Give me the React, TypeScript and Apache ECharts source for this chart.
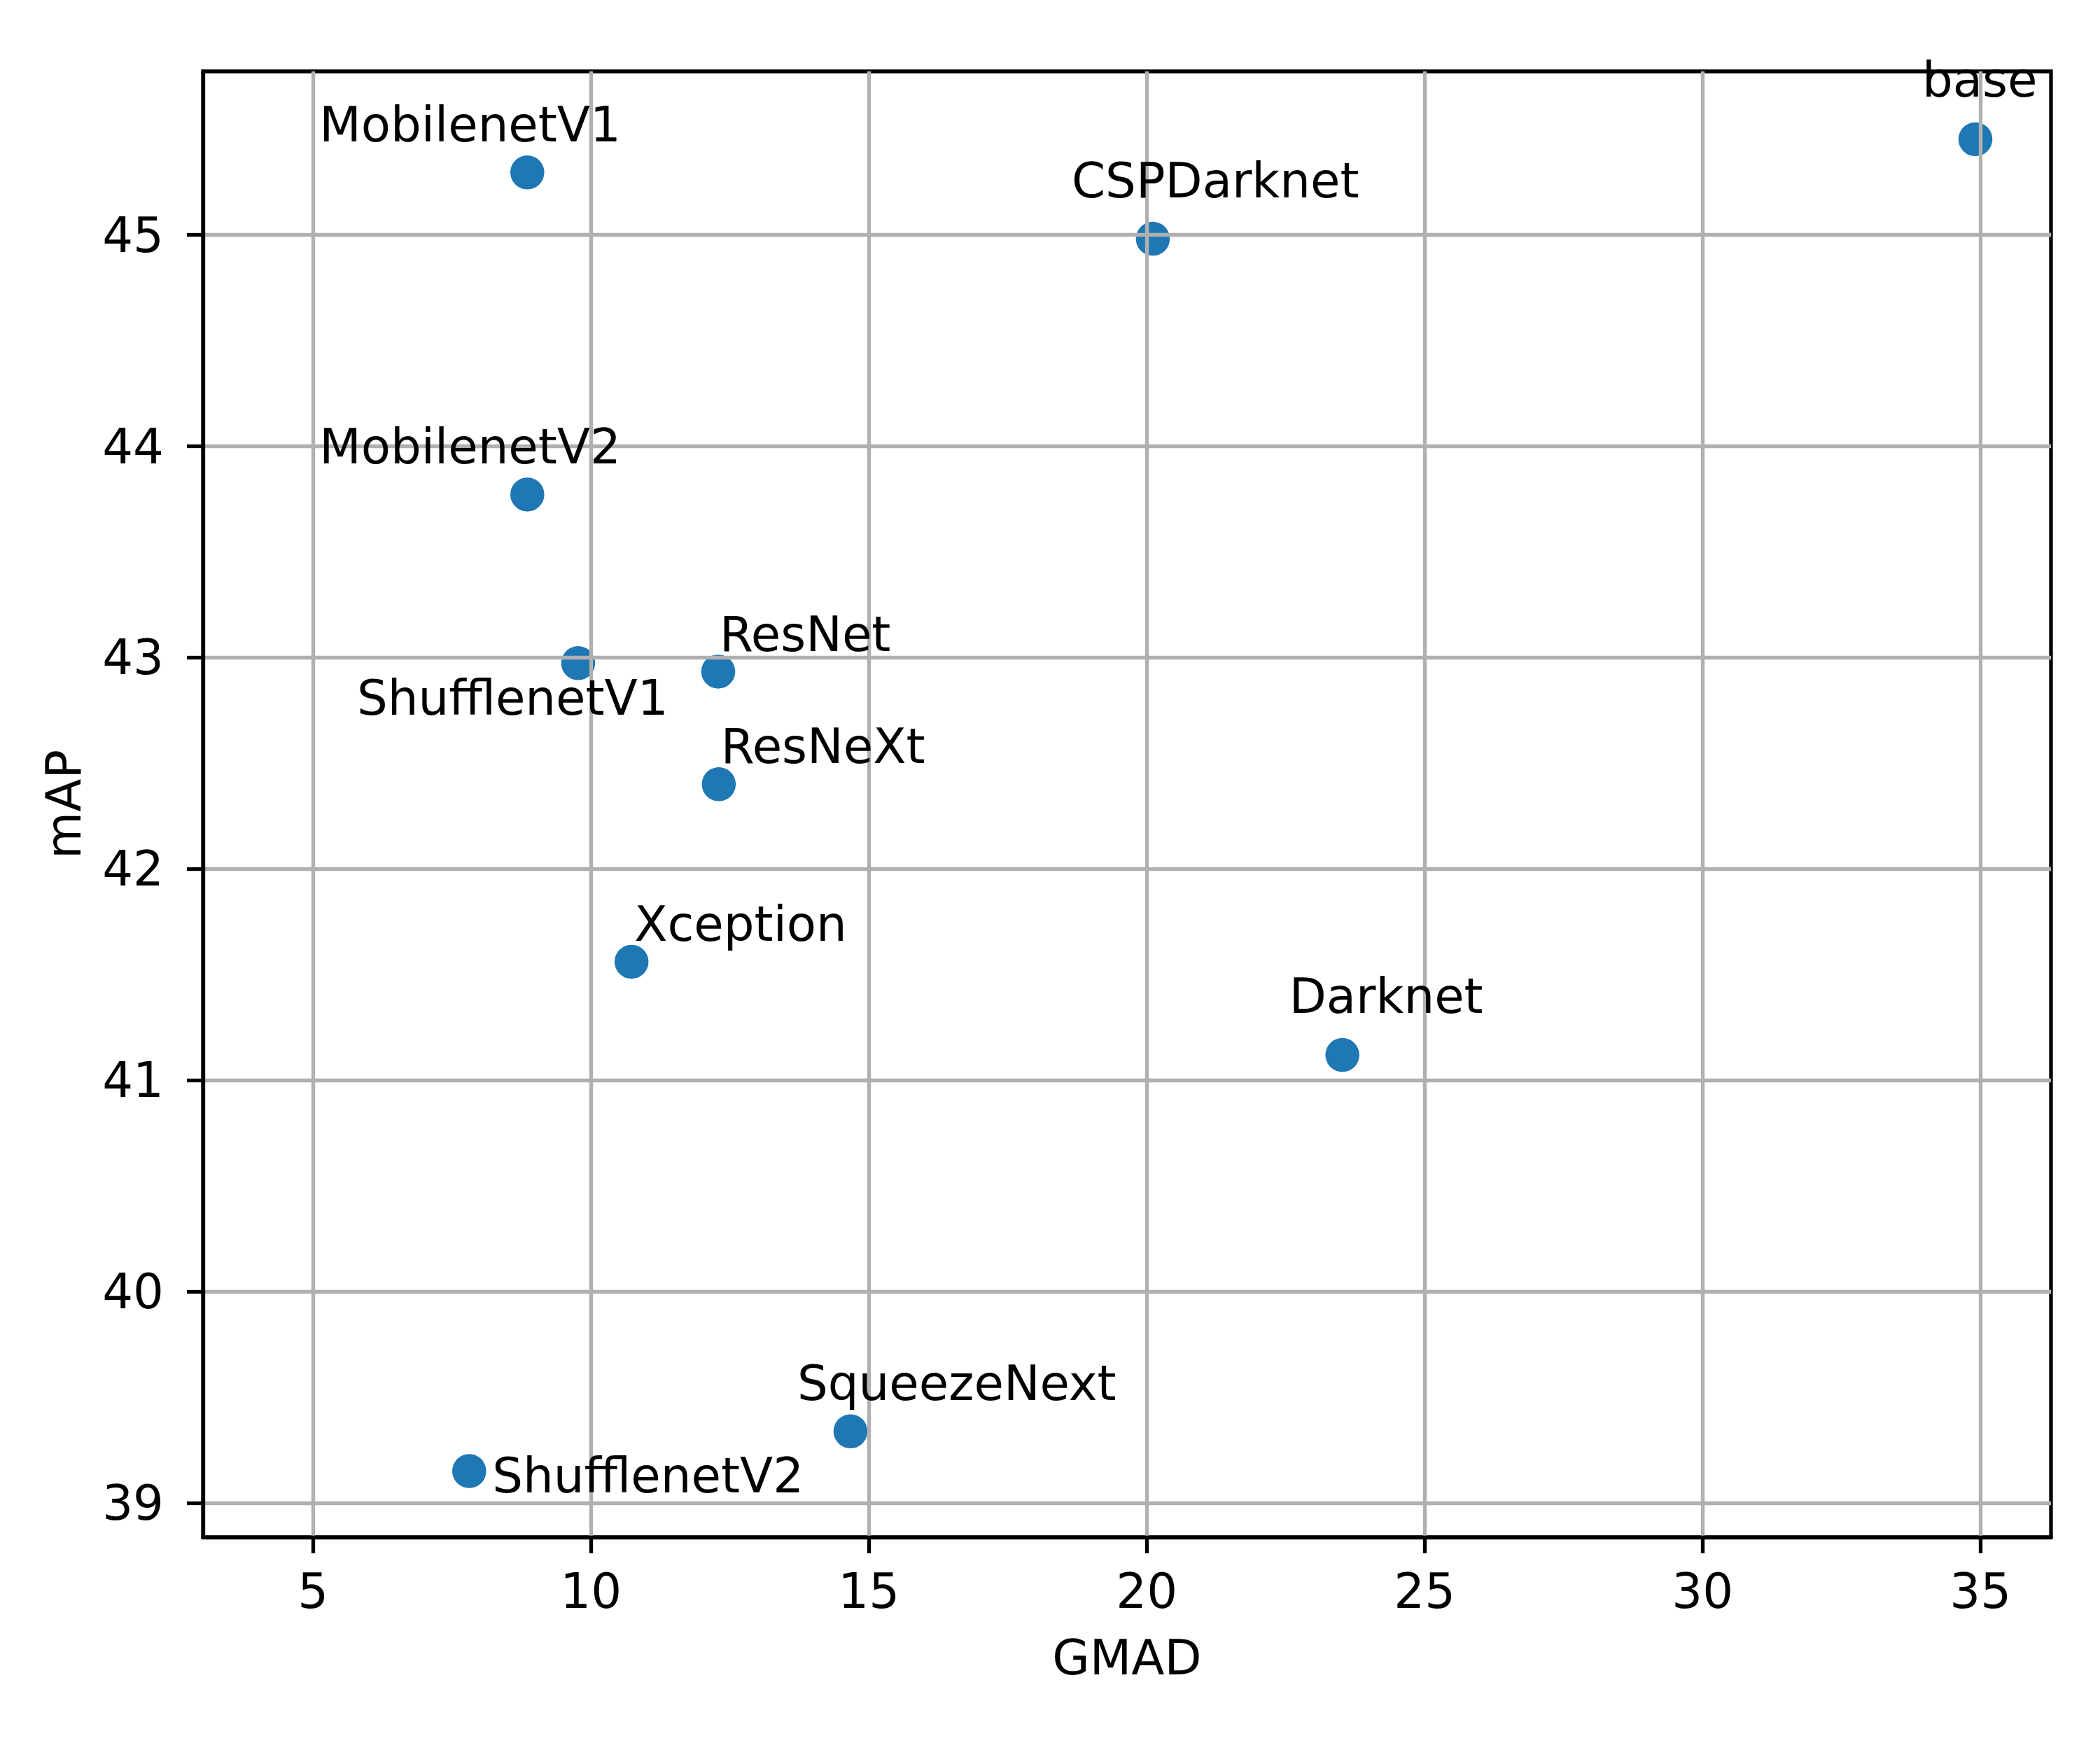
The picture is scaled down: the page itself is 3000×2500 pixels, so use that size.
import React, { useEffect, useRef } from "react";
import * as echarts from "echarts";

const names = ["base", "MobilenetV1", "CSPDarknet", "MobilenetV2", "ShufflenetV1", "ResNet", "ResNeXt", "Xception", "Darknet", "SqueezeNext", "ShufflenetV2"];
const gmad = [34.91, 8.855, 20.11, 8.855, 9.77, 12.29, 12.30, 10.73, 23.52, 14.67, 7.81];
const mapValues = [45.453, 45.296, 44.982, 43.772, 42.974, 42.934, 42.401, 41.561, 41.12, 39.339, 39.151];
const xTicks = [5, 10, 15, 20, 25, 30, 35];
const yTicks = [39, 40, 41, 42, 43, 44, 45];
// label offsets in px: [dx to text left, dy to text baseline]
const labelOffsets: [number, number][] = [
  [-76, -61], [-297, -44], [-116, -59], [-297, -44], [-316, 74], [2, -29],
  [3, -30], [4, -30], [-76, -60], [-76, -45], [33, 30],
];

const FONT = "DejaVu Sans";
const FS = 69;
const LW = 5.3;

export default function App() {
  const ref = useRef<HTMLDivElement>(null);
  useEffect(() => {
    if (!ref.current) return;
    const chart = echarts.init(ref.current, undefined, { renderer: "svg" });
    const pts = names.map((n, i) => [gmad[i], mapValues[i]]);
    chart.setOption({
      animation: false,
      backgroundColor: "#ffffff",
      grid: {
        left: 290, right: 70, top: 102, bottom: 304,
        show: true, borderColor: "#000", borderWidth: LW, backgroundColor: "transparent",
        containLabel: false, outerBoundsMode: "none",
      },
      xAxis: {
        type: "value", min: 3.02, max: 36.27, z: 3,
        name: "GMAD", nameLocation: "middle", nameGap: 137.5,
        nameTextStyle: { fontSize: FS, lineHeight: FS, color: "#000", fontFamily: FONT },
        axisLine: { show: true, onZero: false, lineStyle: { color: "#000", width: LW } },
        axisTick: { show: true, length: 23, customValues: xTicks, lineStyle: { color: "#000", width: LW } },
        axisLabel: { customValues: xTicks, margin: 42, fontSize: FS, lineHeight: FS, color: "#000", fontFamily: FONT },
        splitLine: { show: true, lineStyle: { color: "#b0b0b0", width: LW } },
      },
      yAxis: {
        type: "value", min: 38.838, max: 45.774, z: 3,
        name: "mAP", nameLocation: "middle", nameGap: 165,
        nameTextStyle: { fontSize: FS, lineHeight: FS, color: "#000", fontFamily: FONT },
        axisLine: { show: true, onZero: false, lineStyle: { color: "#000", width: LW } },
        axisTick: { show: true, length: 23, customValues: yTicks, lineStyle: { color: "#000", width: LW } },
        axisLabel: { customValues: yTicks, margin: 56, fontSize: FS, lineHeight: FS, color: "#000", fontFamily: FONT },
        splitLine: { show: true, lineStyle: { color: "#b0b0b0", width: LW } },
      },
      series: [
        {
          type: "scatter", z: 2, symbol: "circle", symbolSize: 48.5,
          itemStyle: { color: "#1f77b4", opacity: 1 },
          emphasis: { disabled: true },
          silent: true,
          data: pts,
        },
        {
          type: "scatter", z: 4, symbol: "circle", symbolSize: 48.5,
          itemStyle: { color: "rgba(0,0,0,0)", opacity: 1 },
          emphasis: { disabled: true },
          silent: true,
          data: pts.map((p, i) => ({
            value: p,
            name: names[i],
            label: { offset: [labelOffsets[i][0], labelOffsets[i][1] - 24] },
          })),
          label: {
            show: true, position: "inside", align: "left", verticalAlign: "middle",
            formatter: (p: any) => p.name,
            fontSize: FS, lineHeight: FS, color: "#000000", opacity: 1, fontFamily: FONT,
            textBorderWidth: 0,
          },
        },
      ],
    });
    return () => chart.dispose();
  }, []);
  return <div ref={ref} style={{ position: "absolute", left: 0, top: 0, width: 3000, height: 2500 }} />;
}
